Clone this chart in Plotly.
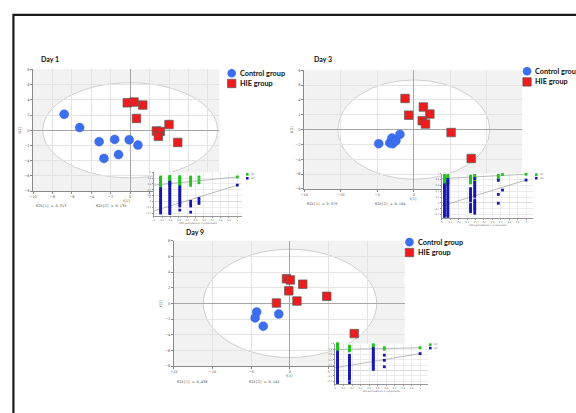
import plotly.graph_objects as go

W, H = 576, 413


def px(x):
    return x / W


def py(y):
    return 1 - y / H


# ---------------- score data (t[1], t[2]) ----------------
day1_ctrl_t1 = [-6.8, -5.2, -3.2, -1.6, -0.1, 0.8, -2.7, -1.2]
day1_ctrl_t2 = [2.1, 0.35, -1.5, -1.2, -1.25, -1.95, -3.7, -3.2]
day1_hie_t1 = [-0.3, 0.4, 1.3, 0.65, 2.7, 3.1, 2.9, 4.0, 4.9]
day1_hie_t2 = [3.6, 3.7, 3.3, 1.55, -0.1, -0.15, -0.8, 0.75, -1.6]

day3_ctrl_t1 = [-4.8, -3.3, -3.0, -2.9, -2.45, -1.9]
day3_ctrl_t2 = [-1.9, -1.8, -1.15, -1.9, -1.5, -0.65]
day3_hie_t1 = [-1.2, -0.7, 1.3, 2.2, 1.15, 1.6, 5.1, 7.85]
day3_hie_t2 = [4.2, 1.95, 3.05, 2.1, 1.2, 0.75, -0.4, -3.9]

day9_ctrl_t1 = [-4.3, -4.5, -3.45, -1.45]
day9_ctrl_t2 = [-1.1, -1.85, -2.9, -1.35]
day9_hie_t1 = [-0.45, 0.05, 1.65, -0.15, -1.75, 0.9, 4.75, 8.3]
day9_hie_t2 = [3.15, 3.0, 2.45, 1.6, 0.05, 0.3, 0.9, -3.85]

# Hotelling T2 ellipse semi-axes (t[1], t[2])
day1_ellipse = [9.0, 6.25]
day3_ellipse = [10.4, 6.7]
day9_ellipse = [11.2, 6.9]

day_labels = ["Day 1", "Day 3", "Day 9"]
r2x_labels = [["R2X[1] = 0.313", "R2X[2] = 0.135"],
              ["R2X[1] = 0.379", "R2X[2] = 0.104"],
              ["R2X[1] = 0.438", "R2X[2] = 0.145"]]
group_names = ["Control group", "HIE group"]

# ---------------- permutation test data ----------------
perm1_x = [0.08, 0.19, 0.31, 0.44, 0.54]
perm1_r2 = [[0.84, 0.8, 0.76, 0.72, 0.68, 0.64, 0.6, 0.56, 0.52],
            [0.86, 0.82, 0.78, 0.74, 0.7, 0.66, 0.62, 0.58],
            [0.85, 0.81, 0.77, 0.72, 0.68, 0.63, 0.58, 0.53],
            [0.84, 0.8, 0.74, 0.68, 0.62, 0.55],
            [0.84, 0.74, 0.64]]
perm1_q2 = [[0.44, 0.38, 0.32, 0.26, 0.2, 0.14, 0.08, 0.02, -0.04, -0.1, -0.16, -0.22, -0.28, -0.34, -0.4],
            [0.66, 0.6, 0.54, 0.48, 0.42, 0.36, 0.3, 0.24, 0.18, 0.12, 0.06, 0.0, -0.06, -0.12, -0.18,
             -0.24, -0.3, -0.36, -0.42],
            [0.5, 0.44, 0.38, 0.32, 0.26, 0.2, 0.14, 0.08, 0.02, -0.04, -0.1, -0.16, -0.3],
            [0.0, -0.08, -0.16, -0.37],
            [0.1, 0.02, -0.07]]
perm1_orig = [0.84, 0.56]
perm1_intercepts = [0.56, -0.33]

perm3_x = [0.03, 0.07, 0.34, 0.39, 0.67, 0.72]
perm3_r2 = [[0.94, 0.9, 0.86, 0.82, 0.78, 0.74, 0.7, 0.66, 0.62, 0.58],
            [0.94, 0.9, 0.86, 0.82, 0.78, 0.74, 0.7, 0.66, 0.62],
            [0.92, 0.88, 0.84, 0.8, 0.76, 0.72, 0.68],
            [0.94, 0.9, 0.86, 0.82, 0.78, 0.74],
            [0.94, 0.875, 0.81],
            [0.97]]
perm3_q2 = [[0.62, 0.56, 0.5, 0.44, 0.38, 0.32, 0.26, 0.2, 0.14, 0.08, 0.02, -0.04, -0.1, -0.16, -0.22,
             -0.28, -0.34, -0.4, -0.46],
            [0.8, 0.74, 0.68, 0.62, 0.56, 0.5, 0.44, 0.38, 0.32, 0.26, 0.2, 0.14, 0.08, 0.02, -0.04,
             -0.1, -0.16, -0.22, -0.28, -0.34, -0.4, -0.46],
            [0.49, 0.43, 0.37, 0.31, 0.25, 0.19, 0.13, 0.07, -0.05, -0.11, -0.17, -0.23, -0.3],
            [0.83, 0.7, 0.64, 0.58, 0.52, 0.46, 0.4, 0.34, 0.28, 0.22, 0.1, 0.04, -0.02, -0.08, -0.14,
             -0.2, -0.26, -0.35],
            [0.77, 0.29, -0.01],
            [0.44]]
perm3_orig = [0.98, 0.78]
perm3_intercepts = [0.83, -0.1]

perm9_x = [0.03, 0.17, 0.45, 0.58]
perm9_r2 = [[1.0, 0.96, 0.92, 0.88, 0.84, 0.8, 0.78],
            [0.91, 0.87, 0.83, 0.79, 0.75, 0.73],
            [0.96, 0.92, 0.88],
            [0.85, 0.79]]
perm9_q2 = [[0.69, 0.63, 0.57, 0.51, 0.45, 0.39, 0.33, 0.27, 0.21, 0.15, 0.09, 0.03, -0.03, -0.09, -0.15,
             -0.21, -0.27, -0.33, -0.39, -0.45],
            [0.57, 0.51, 0.45, 0.39, 0.33, 0.27, 0.21, 0.15, 0.09, 0.03, -0.03, -0.09, -0.15, -0.21,
             -0.27, -0.33, -0.45],
            [0.82, 0.76, 0.7, 0.64, 0.58, 0.52, 0.46, 0.4, 0.34, 0.28, 0.22, 0.16, 0.1, 0.04],
            [0.57, 0.38, 0.14]]
perm9_orig = [0.85, 0.63]
perm9_intercepts = [0.78, 0.1]

perm_legend = ["R2", "Q2"]
perm_title = "200 permutations 1 components"

# ---------------- styling ----------------
BLUE = "#3b6fef"
RED = "#ee1c1c"
GREEN = "#22c322"
DBLUE = "#1717b0"
BG = "#f2f2f2"
GRID = "#e3e3e3"
ZERO = "#a6a6a6"
AXC = "#8a8a8a"
TICKF = dict(size=3.6, color="#555555", family="DejaVu Sans")
LABF = dict(size=7, color="#111111", family="Lato")

# layout geometry (pixels)
mains = [
    dict(xd=(29.3, 217.0), yd=(68, 191), xr=[-10, 9.2], dt=2),
    dict(xd=(302.3, 521.6), yd=(69, 188.7), xr=[-15, 14.8], dt=5),
    dict(xd=(171.0, 403.4), yd=(241, 367.7), xr=[-15, 14.8], dt=5),
]
insets = [
    dict(xd=(151, 240), yd=(172, 216), xr=[0, 1.06]),
    dict(xd=(441, 533), yd=(173.3, 217.7), xr=[0, 1.086]),
    dict(xd=(333.3, 426.7), yd=(345, 385.7), xr=[0, 1.09]),
]
label_pos = [(35, 58), (310, 58), (181, 232)]
legend_pos = [(229.3, 72, 82.3), (526.7, 70, 80.7), (408.3, 242.5, 253)]
r2x_pos = [((30, 91), 205.5), ((303, 372), 204), ((172, 245), 384)]
plegend_pos = [(245, 174, 178), (536, 174.3, 177.9), (429.3, 346, 349.5)]

scores = [
    (day1_ctrl_t1, day1_ctrl_t2, day1_hie_t1, day1_hie_t2, day1_ellipse),
    (day3_ctrl_t1, day3_ctrl_t2, day3_hie_t1, day3_hie_t2, day3_ellipse),
    (day9_ctrl_t1, day9_ctrl_t2, day9_hie_t1, day9_hie_t2, day9_ellipse),
]
perms = [
    (perm1_x, perm1_r2, perm1_q2, perm1_orig, perm1_intercepts),
    (perm3_x, perm3_r2, perm3_q2, perm3_orig, perm3_intercepts),
    (perm9_x, perm9_r2, perm9_q2, perm9_orig, perm9_intercepts),
]

fig = go.Figure()
layout = dict(width=W, height=H, autosize=False,
              margin=dict(l=0, r=0, t=0, b=0),
              paper_bgcolor="white", plot_bgcolor="white",
              showlegend=False)
shapes = []
annotations = []

# page frame
shapes.append(dict(type="rect", xref="paper", yref="paper", x0=px(9.5), x1=1.05,
                   y0=py(13), y1=-0.05, line=dict(color="#1a1a1a", width=2.2),
                   fillcolor="rgba(0,0,0,0)", layer="above"))

for i, (m, s) in enumerate(zip(mains, scores)):
    n = i + 1
    xa = "x" if n == 1 else f"x{n}"
    ya = "y" if n == 1 else f"y{n}"
    layout["xaxis" if n == 1 else f"xaxis{n}"] = dict(
        domain=[px(m["xd"][0]), px(m["xd"][1])], range=m["xr"], anchor=ya,
        dtick=m["dt"], tick0=0, showgrid=True, gridcolor=GRID, gridwidth=0.6,
        zeroline=True, zerolinecolor=ZERO, zerolinewidth=1,
        showline=True, linecolor=AXC, linewidth=0.7, ticks="outside", ticklen=2,
        tickwidth=0.5, tickcolor=AXC, tickfont=TICKF,
        title=dict(text="t[1]", font=TICKF, standoff=1))
    layout["yaxis" if n == 1 else f"yaxis{n}"] = dict(
        domain=[py(m["yd"][1]), py(m["yd"][0])], range=[-8, 8], anchor=xa,
        dtick=2, tick0=0, showgrid=True, gridcolor=GRID, gridwidth=0.6,
        zeroline=True, zerolinecolor=ZERO, zerolinewidth=1,
        showline=True, linecolor=AXC, linewidth=0.7, ticks="outside", ticklen=2,
        tickwidth=0.5, tickcolor=AXC, tickfont=TICKF,
        title=dict(text="t[2]", font=TICKF, standoff=2))
    # grey plot background and white Hotelling ellipse
    shapes.append(dict(type="rect", xref="paper", yref="paper",
                       x0=px(m["xd"][0]), x1=px(m["xd"][1]),
                       y0=py(m["yd"][1]), y1=py(m["yd"][0]),
                       fillcolor=BG, line=dict(width=0), layer="below"))
    a, b = s[4]
    shapes.append(dict(type="circle", xref=xa, yref=ya, x0=-a, x1=a, y0=-b, y1=b,
                       fillcolor="white", line=dict(color="#c4c4c4", width=0.8),
                       layer="below"))
    fig.add_trace(go.Scatter(x=s[0], y=s[1], mode="markers", xaxis=xa, yaxis=ya,
                             name=group_names[0],
                             marker=dict(symbol="circle", size=9, color=BLUE,
                                         line=dict(color="#2d5bd0", width=0.4))))
    fig.add_trace(go.Scatter(x=s[2], y=s[3], mode="markers", xaxis=xa, yaxis=ya,
                             name=group_names[1],
                             marker=dict(symbol="square", size=8.5, color=RED,
                                         line=dict(color="#5a5a5a", width=0.7))))
    # day label
    lx, ly = label_pos[i]
    annotations.append(dict(x=px(lx), y=py(ly), xref="paper", yref="paper",
                            text=f"<b>{day_labels[i]}</b>", showarrow=False,
                            xanchor="left", yanchor="middle", font=LABF))
    # legend
    gx, gy1, gy2 = legend_pos[i]
    shapes.append(dict(type="circle", xref="paper", yref="paper",
                       xsizemode="pixel", ysizemode="pixel",
                       xanchor=px(gx), yanchor=py(gy1), x0=-4.3, x1=4.3, y0=-4.3, y1=4.3,
                       fillcolor=BLUE, line=dict(width=0)))
    shapes.append(dict(type="rect", xref="paper", yref="paper",
                       xsizemode="pixel", ysizemode="pixel",
                       xanchor=px(gx), yanchor=py(gy2), x0=-4.2, x1=4.2, y0=-4.2, y1=4.2,
                       fillcolor=RED, line=dict(color="#5a5a5a", width=0.7)))
    for gname, gy in zip(group_names, (gy1, gy2)):
        annotations.append(dict(x=px(gx + 6.5), y=py(gy), xref="paper", yref="paper",
                                text=f"<b>{gname}</b>", showarrow=False,
                                xanchor="left", yanchor="middle",
                                font=dict(size=7.3, color="#111111", family="Lato")))
    # R2X texts
    (rx1, rx2), ry = r2x_pos[i]
    for t, rx in zip(r2x_labels[i], (rx1, rx2)):
        annotations.append(dict(x=px(rx), y=py(ry), xref="paper", yref="paper",
                                text=t, showarrow=False, xanchor="left", yanchor="middle",
                                font=dict(size=3.6, color="#555555",
                                          family="DejaVu Sans Mono")))

# insets (permutation plots)
for i, (m, p) in enumerate(zip(insets, perms)):
    n = i + 4
    xa, ya = f"x{n}", f"y{n}"
    pfont = dict(size=2.3, color="#666666", family="DejaVu Sans")
    layout[f"xaxis{n}"] = dict(
        domain=[px(m["xd"][0]), px(m["xd"][1])], range=m["xr"], anchor=ya,
        dtick=0.1, tick0=0, showgrid=True, gridcolor="#ececec", gridwidth=0.5,
        zeroline=False, showline=True, linecolor="#999999", linewidth=0.6,
        ticks="outside", ticklen=1.5, tickwidth=0.4, tickcolor="#999999",
        tickfont=pfont, title=dict(text=perm_title, font=pfont, standoff=1))
    layout[f"yaxis{n}"] = dict(
        domain=[py(m["yd"][1]), py(m["yd"][0])], range=[-0.5, 1.0], anchor=xa,
        dtick=0.2, tick0=0, showgrid=True, gridcolor="#ececec", gridwidth=0.5,
        zeroline=True, zerolinecolor="#dddddd", zerolinewidth=0.6,
        showline=True, linecolor="#999999", linewidth=0.6,
        ticks="outside", ticklen=1.5, tickwidth=0.4, tickcolor="#999999",
        tickfont=pfont)
    cols_x, r2, q2, orig, inter = p
    # regression lines from intercept to original model
    for k, col in enumerate((GREEN, DBLUE)):
        fig.add_trace(go.Scatter(x=[0, 1], y=[inter[k], orig[k]], mode="lines",
                                 xaxis=xa, yaxis=ya, hoverinfo="skip",
                                 line=dict(color="#a8a8a8", width=0.8)))
    for k, (vals, col) in enumerate(((r2, GREEN), (q2, DBLUE))):
        xs = [cx for cx, c in zip(cols_x, vals) for _ in c] + [1.0]
        ys = [v for c in vals for v in c] + [orig[k]]
        fig.add_trace(go.Scatter(x=xs, y=ys, mode="markers", xaxis=xa, yaxis=ya,
                                 name=perm_legend[k], cliponaxis=False,
                                 marker=dict(symbol="square", size=2.8, color=col,
                                             line=dict(width=0))))
    lgx, lgy1, lgy2 = plegend_pos[i]
    for lab, gy, col in zip(perm_legend, (lgy1, lgy2), (GREEN, DBLUE)):
        shapes.append(dict(type="rect", xref="paper", yref="paper",
                           xsizemode="pixel", ysizemode="pixel",
                           xanchor=px(lgx), yanchor=py(gy), x0=-1.3, x1=1.3, y0=-1.3, y1=1.3,
                           fillcolor=col, line=dict(width=0)))
        annotations.append(dict(x=px(lgx + 2), y=py(gy), xref="paper", yref="paper",
                                text=lab, showarrow=False, xanchor="left", yanchor="middle",
                                font=dict(size=2.4, color="#555555", family="DejaVu Sans")))

layout["shapes"] = shapes
layout["annotations"] = annotations
fig.update_layout(**layout)
fig.write_html("out.html",
               config={"displayModeBar": False},
               post_script="document.body.style.margin='0px';"
                           "document.body.style.overflow='hidden';")
